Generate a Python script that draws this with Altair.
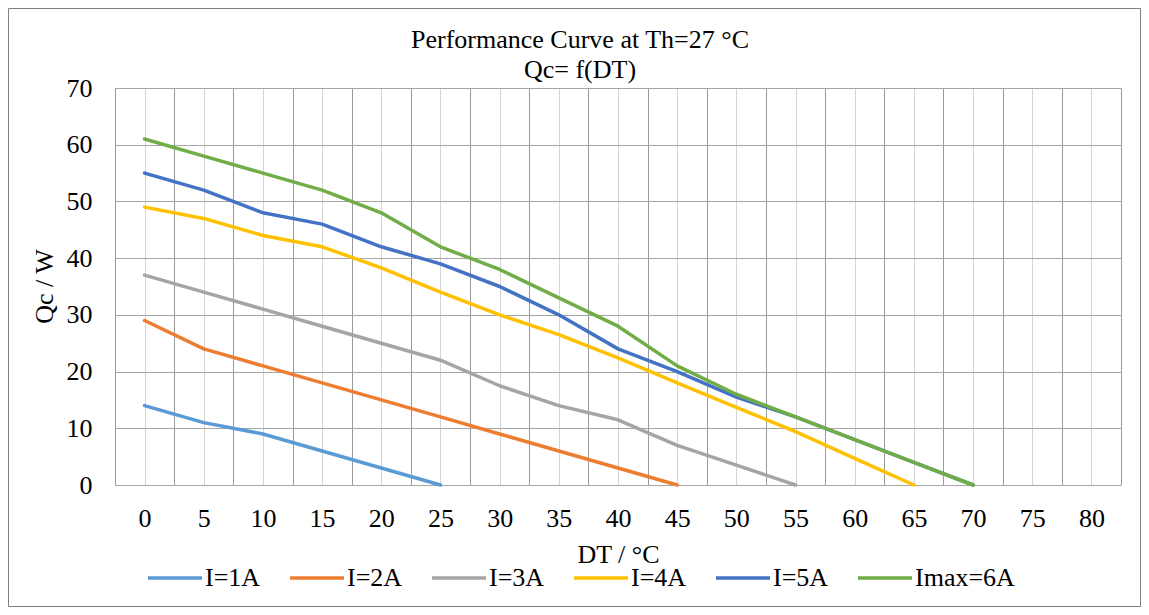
import altair as alt
import pandas as pd

# ---- data ----
dt_ticks = [0, 5, 10, 15, 20, 25, 30, 35, 40, 45, 50, 55, 60, 65, 70, 75, 80]
series_names = ["I=1A", "I=2A", "I=3A", "I=4A", "I=5A", "Imax=6A"]
series_colors = ["#5B9BD5", "#ED7D31", "#A5A5A5", "#FFC000", "#4472C4", "#70AD47"]

qc_1a = [14, 11, 9, 6, 3, 0]
qc_2a = [29, 24, 21, 18, 15, 12, 9, 6, 3, 0]
qc_3a = [37, 34, 31, 28, 25, 22, 17.5, 14, 11.5, 7, 3.5, 0]
qc_4a = [49, 47, 44, 42, 38.3, 34, 30, 26.5, 22.4, 18, 13.7, 9.4, 4.7, 0]
qc_5a = [55, 52, 48, 46, 42, 39, 35, 30, 24, 20, 15.5, 12, 8, 4, 0]
qc_6a = [61, 58, 55, 52, 48, 42, 38, 33, 28, 21, 16, 12, 8, 4, 0]

y_ticks = [0, 10, 20, 30, 40, 50, 60, 70]

rows = []
for name, vals in zip(series_names, [qc_1a, qc_2a, qc_3a, qc_4a, qc_5a, qc_6a]):
    for dt, qc in zip(dt_ticks, vals):
        rows.append({"series": name, "dt": dt, "qc": qc})
df = pd.DataFrame(rows)

half = (dt_ticks[1] - dt_ticks[0]) / 2
x_domain = [dt_ticks[0] - half, dt_ticks[-1] + half]
grid_values = sorted(set(dt_ticks + [t - half for t in dt_ticks] + [dt_ticks[-1] + half]))

FONT = "Liberation Serif"
W, H = 1006, 397
PAD = {"left": 107, "top": 80, "right": 20, "bottom": 122}

lines = (
    alt.Chart(df)
    .mark_line(strokeWidth=3.5, strokeCap="round", strokeJoin="round")
    .encode(
        x=alt.X(
            "dt:Q",
            scale=alt.Scale(domain=x_domain, nice=False, zero=False),
            axis=alt.Axis(
                values=grid_values,
                labelExpr="datum.value % 5 === 0 ? datum.label : ''",
                labelOverlap=False,
                labelFlush=False,
                labelPadding=20,
                ticks=False,
                domain=False,
                grid=True,
                gridColor=alt.condition("datum.value % 5 === 0", alt.value("#d4d4d4"), alt.value("#9a9a9a")),
                gridWidth=1,
                title="DT / °C",
                titleY=77,
                titleBaseline="alphabetic",
            ),
        ),
        y=alt.Y(
            "qc:Q",
            scale=alt.Scale(domain=[0, 70], nice=False, zero=True),
            axis=alt.Axis(
                values=y_ticks,
                labelPadding=23,
                ticks=False,
                domain=False,
                grid=True,
                gridColor="#a6a6a6",
                gridWidth=1,
                title="Qc / W",
                titleX=-58,
                titleY=198,
                titleAngle=-90,
                titleBaseline="bottom",
            ),
        ),
        color=alt.Color(
            "series:N",
            scale=alt.Scale(domain=series_names, range=series_colors),
            legend=alt.Legend(
                orient="none",
                legendX=31,
                legendY=461,
                direction="horizontal",
                title=None,
                symbolType="stroke",
                symbolSize=2916,
                symbolStrokeWidth=3.5,
                labelFont=FONT,
                labelFontSize=26,
                labelColor="#000000",
                labelOffset=1,
                columnPadding=22,
                labelLimit=300,
            ),
        ),
    )
)

# thin outer frame of the chart area (decoration, not data)
frame = (
    alt.Chart(pd.DataFrame({"frame": [0]}))
    .mark_rect(fill=None, stroke="#7f7f7f", strokeWidth=1)
    .encode(
        x=alt.value(-PAD["left"] + 0.5),
        x2=alt.value(W + PAD["right"] - 0.5),
        y=alt.value(-PAD["top"] + 0.5),
        y2=alt.value(H + PAD["bottom"] - 0.5),
    )
)

chart = (
    alt.layer(lines, frame)
    .properties(
        width=W,
        height=H,
        autosize=alt.AutoSizeParams(type="none"),
        padding=PAD,
        title=alt.TitleParams(
            text=["Performance Curve at Th=27 °C", "Qc= f(DT)"],
            font=FONT,
            fontSize=26,
            fontWeight="normal",
            color="#000000",
            anchor="middle",
            frame="group",
            dx=-38,
            dy=80,
            offset=5,
            lineHeight=30,
        ),
    )
    .configure(font=FONT, background="white")
    .configure_view(stroke=None)
    .configure_axis(
        labelFont=FONT,
        labelFontSize=26,
        labelColor="#000000",
        titleFont=FONT,
        titleFontSize=26,
        titleFontWeight="normal",
        titleColor="#000000",
    )
)

chart.save("out.html", embed_options={"renderer": "svg", "actions": False})
